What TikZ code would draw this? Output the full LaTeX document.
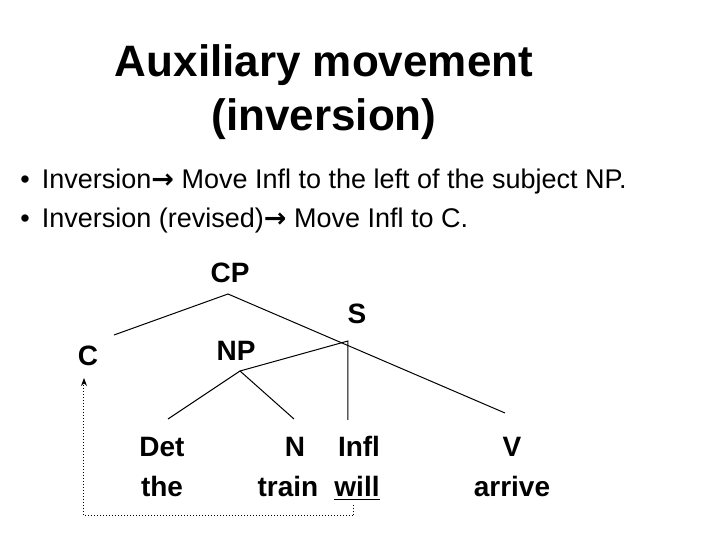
\documentclass[tikz,border=0pt]{standalone}
\usepackage{fontspec}
\setmainfont{Liberation Sans}
\newfontfamily\arrowfont{DejaVu Sans}
\usetikzlibrary{arrows.meta}
\newcommand{\movearrow}{{\arrowfont\bfseries →}}
\tikzset{
  lab/.style={font=\fontsize{14}{16}\selectfont\bfseries, inner sep=1pt, anchor=base},
  txt/.style={font=\fontsize{13.5}{16}\selectfont, anchor=base west, inner sep=0pt},
  branch/.style={draw, line width=0.5pt},
  move/.style={draw, densely dotted, line width=0.5pt, -{Stealth[length=4pt]}}
}
\begin{document}
\begin{tikzpicture}[x=0.5pt,y=-0.5pt]
\useasboundingbox (0,0) rectangle (720,540);
% title
\node[font=\fontsize{22}{26}\selectfont\bfseries, anchor=base] (t1) at (324,77) {Auxiliary movement};
\node[font=\fontsize{22}{26}\selectfont\bfseries, anchor=base] (t2) at (324,131) {(inversion)};
% bullets
\node[txt] (b1) at (20,189) {•\hspace{6pt}Inversion\movearrow{} Move Infl to the left of the subject NP.};
\node[txt] (b2) at (20,228) {•\hspace{6pt}Inversion (revised)\movearrow{} Move Infl to C.};
% tree labels
\node[lab] (cp) at (230,283) {CP};
\node[lab] (s) at (357,324) {S};
\node[lab] (c) at (88,366) {C};
\node[lab] (np) at (236,361) {NP};
\node[lab] (det) at (162,457) {Det};
\node[lab] (the) at (162,497) {the};
\node[lab] (n) at (295,457) {N};
\node[lab] (infl) at (359,457) {Infl};
\node[lab] (train) at (288,497) {train};
\node[lab] (will) at (357,497) {\underline{will}};
\node[lab] (v) at (512,457) {V};
\node[lab] (arrive) at (512,497) {arrive};
% branch points
\coordinate (cpx) at (228,294);
\coordinate (sx) at (348,341);
\coordinate (npx) at (240,371);
\coordinate (cx) at (114,335);
\coordinate (detx) at (168,419);
\coordinate (nx) at (294,419);
\coordinate (inflx) at (348,420);
\coordinate (vx) at (505,413);
\draw[branch] (cx) -- (cpx) -- (vx);
\draw[branch] (npx) -- (sx) -- (inflx);
\draw[branch] (detx) -- (npx) -- (nx);
% movement
\coordinate (w0) at (354,505);
\coordinate (mv) at (354,516);
\coordinate (mc) at (84,516);
\coordinate (ct) at (84,378);
\draw[move] (w0) -- (mv) -- (mc) -- (ct);
\end{tikzpicture}
\end{document}
